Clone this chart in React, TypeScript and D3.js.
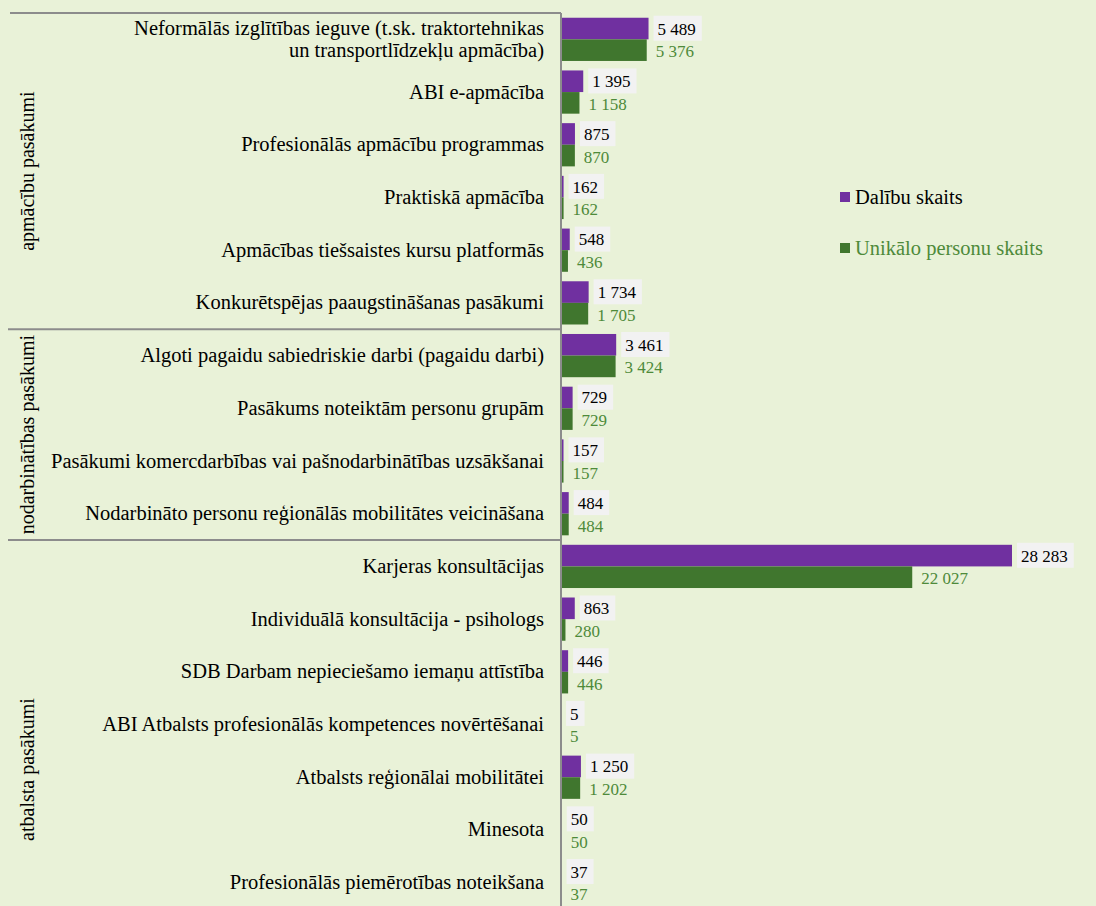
import React from 'react';
import * as d3 from 'd3';

const categories = [
  'Neformālās izglītības ieguve (t.sk. traktortehnikas|un transportlīdzekļu apmācība)',
  'ABI e-apmācība',
  'Profesionālās apmācību programmas',
  'Praktiskā apmācība',
  'Apmācības tiešsaistes kursu platformās',
  'Konkurētspējas paaugstināšanas pasākumi',
  'Algoti pagaidu sabiedriskie darbi (pagaidu darbi)',
  'Pasākums noteiktām personu grupām',
  'Pasākumi komercdarbības vai pašnodarbinātības uzsākšanai',
  'Nodarbināto personu reģionālās mobilitātes veicināšana',
  'Karjeras konsultācijas',
  'Individuālā konsultācija - psihologs',
  'SDB Darbam nepieciešamo iemaņu attīstība',
  'ABI Atbalsts profesionālās kompetences novērtēšanai',
  'Atbalsts reģionālai mobilitātei',
  'Minesota',
  'Profesionālās piemērotības noteikšana',
];

const participations = [5489, 1395, 875, 162, 548, 1734, 3461, 729, 157, 484, 28283, 863, 446, 5, 1250, 50, 37];
const uniquePersons = [5376, 1158, 870, 162, 436, 1705, 3424, 729, 157, 484, 22027, 280, 446, 5, 1202, 50, 37];

const groups = ['apmācību pasākumi', 'nodarbinātības pasākumi', 'atbalsta pasākumi'];
const groupSizes = [6, 4, 7];

const seriesNames = ['Dalību skaits', 'Unikālo personu skaits'];

const W = 1096;
const H = 906;
const BG = '#e9f2d8';
const PURPLE = '#7030a0';
const GREEN = '#40762e';
const GREEN_TEXT = '#4e8a3a';
const GRID = '#8c8c8c';
const FONT = 'Liberation Serif';

const axisX = 561;
const top = 13;
const bottom = 909;
// the source chart runs on below the photographed window
const frameBottom = 999;

const fmt = (v: number) => d3.format(',')(v).replace(/,/g, ' ');

const App = () => {
  const y = d3
    .scaleBand<number>()
    .domain(d3.range(categories.length))
    .range([top, bottom])
    .paddingInner(0.18)
    .paddingOuter(0.09);

  const ys = d3.scaleBand<number>().domain([0, 1]).range([0, y.bandwidth()]).padding(0);

  const x = d3.scaleLinear().domain([0, 28283]).range([axisX, 1012]);

  const step = y.step();
  let start = 0;
  const groupRanges = groupSizes.map((n, i) => {
    const y0 = top + start * step;
    start += n;
    const y1 = i === groupSizes.length - 1 ? frameBottom : top + start * step;
    return { name: groups[i], y0, y1 };
  });

  return (
    <svg width={W} height={H} style={{ position: 'absolute', left: 0, top: 0, background: BG }}>
      <rect width={W} height={H} fill={BG} />

      {/* frame lines */}
      <line x1={10} x2={axisX} y1={top} y2={top} stroke={GRID} strokeWidth={2} />
      {groupRanges.slice(1).map((g) => (
        <line key={g.name} x1={8} x2={axisX} y1={g.y0} y2={g.y0} stroke={GRID} strokeWidth={2} />
      ))}

      {groupRanges.map((g) => (
        <text
          key={g.name}
          transform={`translate(27,${(g.y0 + g.y1) / 2}) rotate(-90)`}
          textAnchor="middle"
          dominantBaseline="central"
          fontFamily={FONT}
          fontSize={20}
          fill="#000"
        >
          {g.name}
        </text>
      ))}

      {categories.map((c, i) => {
        const lines = c.split('|');
        const cy = (y(i) as number) + y.bandwidth() / 2;
        return (
          <text key={c} x={axisX - 17} textAnchor="end" fontFamily={FONT} fontSize={20.5} fill="#000">
            {lines.map((l, j) => (
              <tspan key={j} x={axisX - 17} y={cy + (j - (lines.length - 1) / 2) * 22.5 + 6.5}>
                {l}
              </tspan>
            ))}
          </text>
        );
      })}

      {categories.map((c, i) => {
        const by = y(i) as number;
        const v1 = participations[i];
        const v2 = uniquePersons[i];
        const y1 = by + (ys(0) as number);
        const y2 = by + (ys(1) as number);
        const t1 = fmt(v1);
        const boxW = t1.replace(/ /g, '').length * 8.5 + (t1.includes(' ') ? 4.25 : 0) + 10;
        return (
          <g key={'b' + i}>
            <rect x={axisX} y={y1} width={x(v1) - axisX} height={ys.bandwidth()} fill={PURPLE} />
            <rect x={axisX} y={y2} width={x(v2) - axisX} height={ys.bandwidth()} fill={GREEN} />
            <rect x={x(v1) + 5} y={y1 - 2} width={boxW} height={25} fill="#f2f2f2" />
            <text x={x(v1) + 9} y={y1 + ys.bandwidth() / 2 + 6} fontFamily={FONT} fontSize={17} fill="#000">
              {t1}
            </text>
            <text x={x(v2) + 9} y={y2 + ys.bandwidth() / 2 + 7} fontFamily={FONT} fontSize={17} fill={GREEN_TEXT}>
              {fmt(v2)}
            </text>
          </g>
        );
      })}

      <line x1={axisX} x2={axisX} y1={top} y2={H} stroke={GRID} strokeWidth={2} />

      {seriesNames.map((s, i) => (
        <g key={s} transform={`translate(840,${197 + i * 51})`}>
          <rect x={0} y={-5} width={10} height={10} fill={i === 0 ? PURPLE : GREEN} />
          <text x={15} y={6.5} fontFamily={FONT} fontSize={20.5} fill={i === 0 ? '#000' : GREEN_TEXT}>
            {s}
          </text>
        </g>
      ))}
    </svg>
  );
};

export default App;
